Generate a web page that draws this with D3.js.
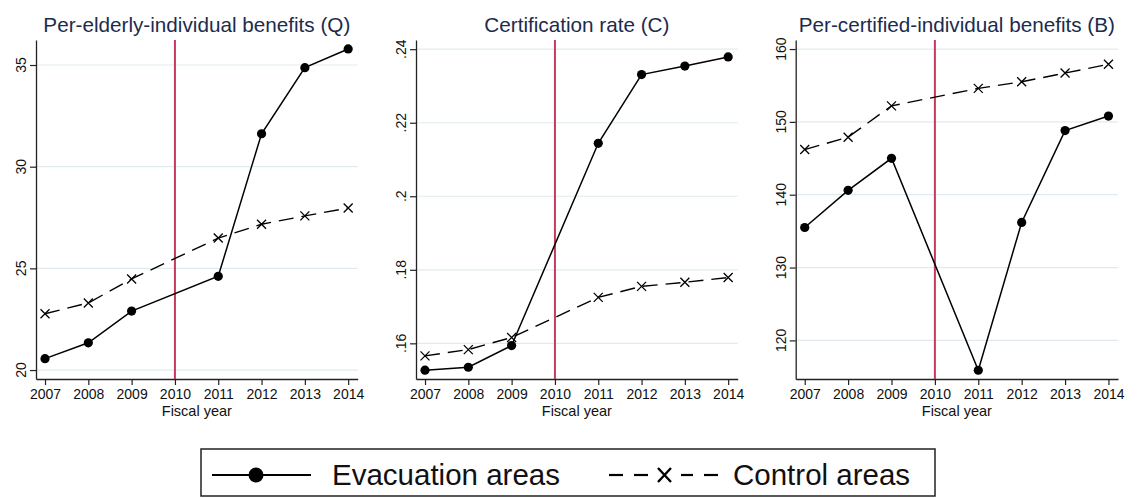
<!DOCTYPE html>
<html>
<head>
<meta charset="utf-8">
<script src="https://cdn.jsdelivr.net/npm/d3@7"></script>
<style>
  body { margin: 0; background: #fff; }
  text { font-family: "Liberation Sans", Arial, sans-serif; }
</style>
</head>
<body>
<div id="chart"></div>
<script>
// Data
var years = [2007, 2008, 2009, 2011, 2012, 2013, 2014];
var xTicks = [2007, 2008, 2009, 2010, 2011, 2012, 2013, 2014];
var eventYear = 2010;

var titles = ["Per-elderly-individual benefits (Q)", "Certification rate (C)", "Per-certified-individual benefits (B)"];

var evacQ = [20.56, 21.34, 22.90, 24.61, 31.62, 34.87, 35.79];
var controlQ = [22.77, 23.30, 24.48, 26.49, 27.17, 27.58, 27.97];

var evacC = [0.1527, 0.1535, 0.1594, 0.2144, 0.2331, 0.2354, 0.2379];
var controlC = [0.1566, 0.1583, 0.1616, 0.1725, 0.1755, 0.1766, 0.1779];

var evacB = [135.5, 140.6, 145.0, 115.9, 136.2, 148.8, 150.8];
var controlB = [146.2, 147.9, 152.2, 154.6, 155.5, 156.7, 157.9];

var yTicksQ = [20, 25, 30, 35];
var yTicksC = [0.16, 0.18, 0.20, 0.22, 0.24];
var yTicksB = [120, 130, 140, 150, 160];

var legendLabels = ["Evacuation areas", "Control areas"];

// Layout
var svgWidth = 1137;
var svgHeight = 498;
var plotTop = 40;
var plotBottom = 379;

var panels = [
  { title: titles[0], evac: evacQ, control: controlQ, ticks: yTicksQ, yDomain: [19.56, 36.23], left: 36, right: 357.7, fmt: d3.format("d") },
  { title: titles[1], evac: evacC, control: controlC, ticks: yTicksC, yDomain: [0.1503, 0.2425], left: 416, right: 737.7, fmt: d => d3.format(".2")(d).replace(/^0/, "") },
  { title: titles[2], evac: evacB, control: controlB, ticks: yTicksB, yDomain: [114.7, 161.24], left: 795.7, right: 1118, fmt: d3.format("d") }
];

var svg = d3.select("#chart")
  .append("svg")
  .attr("width", svgWidth)
  .attr("height", svgHeight);

svg.append("rect").attr("width", svgWidth).attr("height", svgHeight).attr("fill", "#fff");

panels.forEach(function(p) {
  var x = d3.scaleLinear().domain([2006.792, 2014.22]).range([p.left, p.right]);
  var y = d3.scaleLinear().domain(p.yDomain).range([plotBottom, plotTop]);

  var g = svg.append("g");

  // grid lines
  g.selectAll(".grid")
    .data(p.ticks)
    .enter()
    .append("line")
    .attr("x1", p.left)
    .attr("x2", p.right)
    .attr("y1", d => y(d))
    .attr("y2", d => y(d))
    .attr("stroke", "#e1ebef")
    .attr("stroke-width", 1.2);

  // x axis
  var xAxis = g.append("g")
    .attr("transform", `translate(0, ${plotBottom})`)
    .call(d3.axisBottom(x).tickValues(xTicks).tickFormat(d3.format("d")).tickSize(6).tickSizeOuter(0));
  xAxis.select(".domain").attr("stroke", "#222").attr("stroke-width", 1.3);
  xAxis.selectAll(".tick line").attr("stroke", "#222").attr("stroke-width", 1.2);
  xAxis.selectAll(".tick text")
    .attr("font-size", 14)
    .attr("font-family", "Liberation Sans, Arial, sans-serif")
    .attr("fill", "#111")
    .attr("dy", "0")
    .attr("y", 20);

  // y axis (labels drawn rotated below)
  var yAxis = g.append("g")
    .attr("transform", `translate(${p.left}, 0)`)
    .call(d3.axisLeft(y).tickValues(p.ticks).tickFormat("").tickSize(6).tickSizeOuter(0));
  yAxis.select(".domain").attr("stroke", "#222").attr("stroke-width", 1.3);
  yAxis.selectAll(".tick line").attr("stroke", "#222").attr("stroke-width", 1.2);
  yAxis.selectAll(".tick text").remove();

  g.selectAll(".ylab")
    .data(p.ticks)
    .enter()
    .append("text")
    .attr("transform", d => `translate(${p.left - 10}, ${y(d)}) rotate(-90)`)
    .attr("text-anchor", "middle")
    .attr("font-size", 14)
    .attr("fill", "#111")
    .text(p.fmt);

  // axis title
  g.append("text")
    .attr("x", (p.left + p.right) / 2)
    .attr("y", 416)
    .attr("text-anchor", "middle")
    .attr("font-size", 14.5)
    .attr("fill", "#111")
    .text("Fiscal year");

  // panel title
  g.append("text")
    .attr("x", (p.left + p.right) / 2)
    .attr("y", 32)
    .attr("text-anchor", "middle")
    .attr("font-size", 20.7)
    .attr("fill", "#1c2b4e")
    .text(p.title);

  // event line
  g.append("line")
    .attr("x1", x(eventYear))
    .attr("x2", x(eventYear))
    .attr("y1", plotTop)
    .attr("y2", plotBottom)
    .attr("stroke", "#c43a5e")
    .attr("stroke-width", 2);

  var line = d3.line().x(d => x(d[0])).y(d => y(d[1]));

  var controlPts = years.map((yr, i) => [yr, p.control[i]]);
  var evacPts = years.map((yr, i) => [yr, p.evac[i]]);

  g.append("path")
    .attr("d", line(controlPts))
    .attr("fill", "none")
    .attr("stroke", "#000")
    .attr("stroke-width", 1.4)
    .attr("stroke-dasharray", "15,8");

  g.selectAll(".xmark")
    .data(controlPts)
    .enter()
    .append("path")
    .attr("d", function(d) {
      var cx = x(d[0]), cy = y(d[1]), s = 4.5;
      return `M${cx - s},${cy - s}L${cx + s},${cy + s}M${cx - s},${cy + s}L${cx + s},${cy - s}`;
    })
    .attr("stroke", "#000")
    .attr("stroke-width", 1.3)
    .attr("fill", "none");

  g.append("path")
    .attr("d", line(evacPts))
    .attr("fill", "none")
    .attr("stroke", "#000")
    .attr("stroke-width", 1.5);

  g.selectAll(".dot")
    .data(evacPts)
    .enter()
    .append("circle")
    .attr("cx", d => x(d[0]))
    .attr("cy", d => y(d[1]))
    .attr("r", 4.6)
    .attr("fill", "#000");
});

// Legend
var legend = svg.append("g");
legend.append("rect")
  .attr("x", 201)
  .attr("y", 449)
  .attr("width", 734)
  .attr("height", 47)
  .attr("fill", "#fff")
  .attr("stroke", "#222")
  .attr("stroke-width", 1.5);

var ly = 475;
legend.append("line")
  .attr("x1", 212).attr("x2", 311)
  .attr("y1", ly).attr("y2", ly)
  .attr("stroke", "#000").attr("stroke-width", 2.2);
legend.append("circle")
  .attr("cx", 256).attr("cy", ly).attr("r", 7.5).attr("fill", "#000");
legend.append("text")
  .attr("x", 332).attr("y", 485)
  .attr("font-size", 29.5)
  .attr("fill", "#111")
  .text(legendLabels[0]);

var dashes = [[609, 623], [634, 648], [681, 693], [704, 718]];
legend.selectAll(".dash")
  .data(dashes)
  .enter()
  .append("line")
  .attr("x1", d => d[0]).attr("x2", d => d[1])
  .attr("y1", ly).attr("y2", ly)
  .attr("stroke", "#000").attr("stroke-width", 2.2);
legend.append("path")
  .attr("d", `M${664.5 - 6.5},${ly - 7}L${664.5 + 6.5},${ly + 7}M${664.5 - 6.5},${ly + 7}L${664.5 + 6.5},${ly - 7}`)
  .attr("stroke", "#000").attr("stroke-width", 2.4);
legend.append("text")
  .attr("x", 733).attr("y", 485)
  .attr("font-size", 29.5)
  .attr("fill", "#111")
  .text(legendLabels[1]);
</script>
</body>
</html>
